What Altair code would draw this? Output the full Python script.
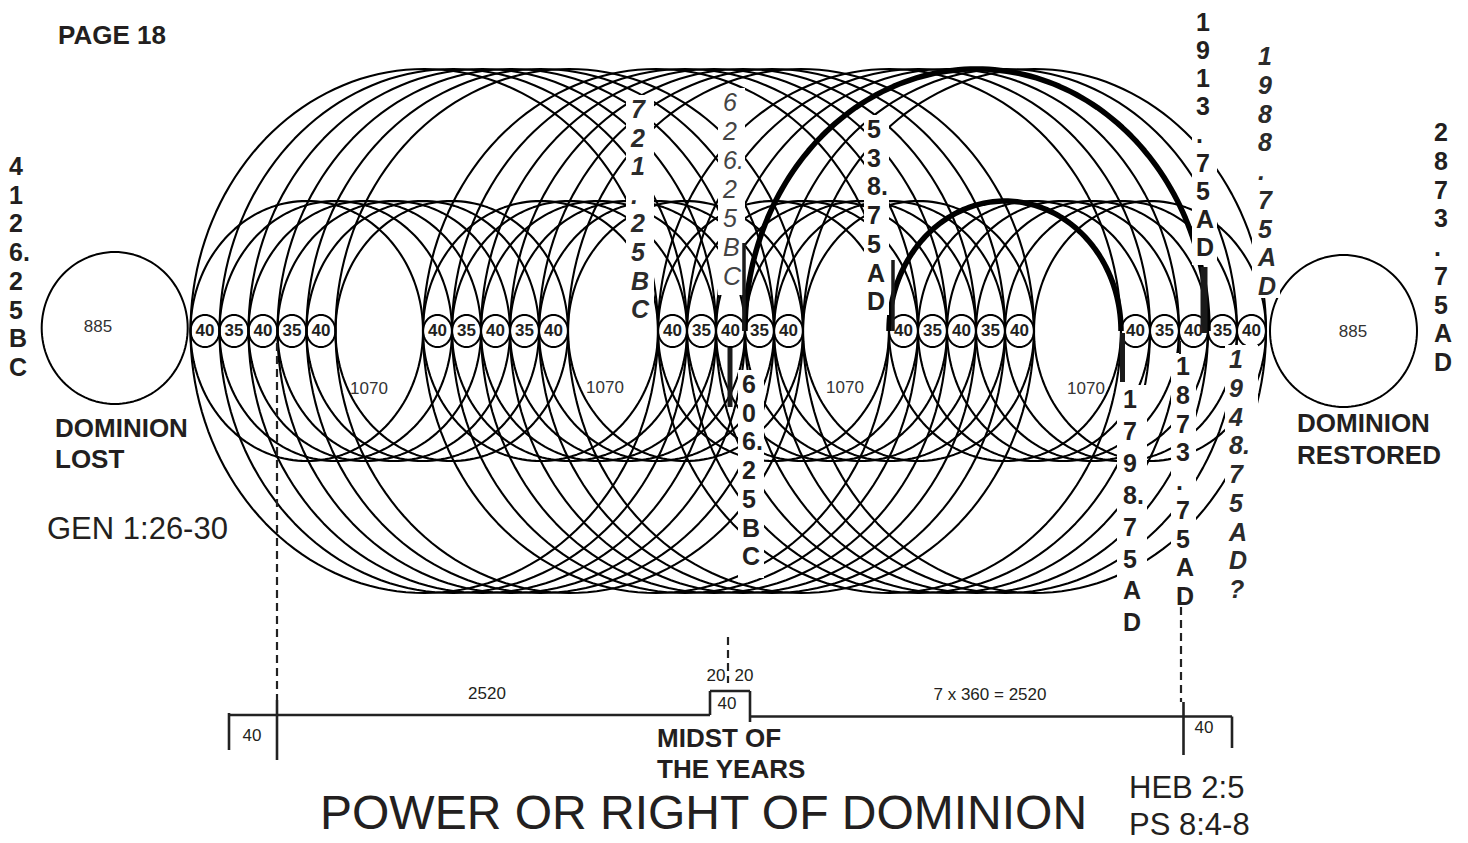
import numpy as np
import pandas as pd
import altair as alt

# ------------------------------------------------------------------ data
# All positions are in the reference picture's pixel space.
group_starts = [190.5, 423.0, 658.0, 889.0, 1121.0]  # left tangent point of each chain
chain_labels = ["40", "35", "40", "35", "40"]
link_width = 29.0
base_y = 331.0
link_rx, link_ry = 14.5, 16.0
inner_ry = 130.0   # loops spanning one gap (1070)
outer_ry = 262.0   # loops spanning two gaps

circle_cx = [114.7, 1343.5]
circle_cy = [328.0, 331.0]
circle_rx = [73.0, 73.5]
circle_ry = [76.0, 76.0]
circle_labels = ["885", "885"]
circle_label_x = [98, 1353]
circle_label_y = [327, 332]

gap_labels = ["1070", "1070", "1070", "1070"]
gap_label_x = [369, 605, 845, 1086]
gap_label_y = [389, 388, 388, 389]

# highlighted arcs: (chain, tangent index) -> (chain, tangent index)
thick_from = [(2, 3), (3, 0)]
thick_to = [(4, 3), (4, 0)]
thick_ry = [262.0, 130.0]

# vertical date columns
col_lines = [
    ["4", "1", "2", "6.", "2", "5", "B", "C"],
    ["7", "2", "1", ".", "2", "5", "B", "C"],
    ["6", "2", "6.", "2", "5", "B", "C"],
    ["5", "3", "8.", "7", "5", "A", "D"],
    ["1", "9", "1", "3", ".", "7", "5", "A", "D"],
    ["1", "9", "8", "8", ".", "7", "5", "A", "D"],
    ["2", "8", "7", "3", ".", "7", "5", "A", "D"],
    ["6", "0", "6.", "2", "5", "B", "C"],
    ["1", "7", "9", "8.", "7", "5", "A", "D"],
    ["1", "8", "7", "3", ".", "7", "5", "A", "D"],
    ["1", "9", "4", "8.", "7", "5", "A", "D", "?"],
]
col_x = [9, 631, 723, 867, 1196, 1258, 1434, 742, 1123, 1176, 1229]
col_y0 = [167, 110, 103, 130, 23, 57, 133, 385, 400, 367, 360]
col_dy = [28.7, 28.6, 29.0, 28.7, 28.1, 28.75, 28.75, 28.7, 31.9, 28.75, 28.75]
col_style = ["bold", "bolditalic", "italic", "bold", "bold", "bolditalic", "bold",
             "bold", "bold", "bold", "bolditalic"]

# white panels behind the date columns
mask_x1 = [626, 718, 864, 1192, 1252, 738, 1117, 1171, 1225]
mask_x2 = [654, 745, 889, 1217, 1280, 764, 1147, 1196, 1258]
mask_y1 = [95, 88, 115, 5, 40, 370, 385, 353, 345]
mask_y2 = [322, 295, 315, 265, 298, 578, 635, 607, 603]

# heavy marker bars
bar_x = [744, 730, 893, 1122.5, 1204, 1180]
bar_y1 = [243, 348, 260, 333, 267, 341]
bar_y2 = [331, 407, 331, 382, 333, 354]
bar_w = [3.5, 5.0, 3.5, 5.0, 7.0, 2.0]

# dashed guides
dash_x = [277, 728, 1181]
dash_y1 = [343, 637, 607]
dash_y2 = [700, 683, 702]

# time line (solid segments)
tl_x1 = [229, 710, 710, 750, 750, 229, 277, 1183.5, 1232]
tl_y1 = [715, 715, 691, 691, 716.5, 713, 700, 702, 716.5]
tl_x2 = [710, 710, 750, 750, 1232, 229, 277, 1183.5, 1232]
tl_y2 = [715, 691, 691, 722, 716.5, 750, 760, 755, 748]
tl_text = ["40", "2520", "20", "20", "40", "7 x 360 = 2520", "40"]
tl_tx = [252, 487, 716, 744, 727, 990, 1204]
tl_ty = [736, 694, 676, 676, 704, 695, 728]

bold_text = ["PAGE 18", "DOMINION", "LOST", "DOMINION", "RESTORED", "MIDST OF", "THE YEARS"]
bold_x = [58, 55, 55, 1297, 1297, 657, 657]
bold_y = [36, 429, 460, 424, 456, 739, 770]

ref_text = ["GEN 1:26-30", "HEB 2:5", "PS 8:4-8"]
ref_x = [47, 1129, 1129]
ref_y = [530, 789, 826]

title_text = ["POWER OR RIGHT OF DOMINION"]
title_x = [320]
title_y = [815]

# ------------------------------------------------------------------ geometry
tangents = [[g + i * link_width for i in range(6)] for g in group_starts]


def ellipse(kind, eid, cx, cy, rx, ry, t0=0.0, t1=2 * np.pi, n=161):
    t = np.linspace(t0, t1, n)
    return pd.DataFrame({
        "kind": kind, "id": eid, "o": np.arange(n),
        "x": np.round(cx + rx * np.cos(t), 2),
        "y": np.round(cy - ry * np.sin(t), 2),
    })


parts = []
eid = 0
for k in range(4):          # one-gap loops
    for i in range(6):
        a, b = tangents[k][i], tangents[k + 1][i]
        parts.append(ellipse("thin", eid, (a + b) / 2, base_y, (b - a) / 2, inner_ry))
        eid += 1
for k in range(3):          # two-gap loops
    for i in range(6):
        a, b = tangents[k][i], tangents[k + 2][i]
        parts.append(ellipse("thin", eid, (a + b) / 2, base_y, (b - a) / 2, outer_ry))
        eid += 1
for (k1, i1), (k2, i2), ry in zip(thick_from, thick_to, thick_ry):
    a, b = tangents[k1][i1], tangents[k2][i2]
    parts.append(ellipse("thick", eid, (a + b) / 2, base_y, (b - a) / 2, ry, 0, np.pi, 121))
    eid += 1
link_rows = []
for k in range(5):
    for i in range(5):
        cx = tangents[k][i] + link_width / 2
        parts.append(ellipse("link", eid, cx, base_y, link_rx, link_ry, n=61))
        link_rows.append({"x": cx, "y": base_y, "t": chain_labels[i]})
        eid += 1
for cx, cy, rx, ry in zip(circle_cx, circle_cy, circle_rx, circle_ry):
    parts.append(ellipse("big", eid, cx, cy, rx, ry, n=121))
    eid += 1
curves = pd.concat(parts, ignore_index=True)
links = pd.DataFrame(link_rows)

col_rows = []
for lines, x, y0, dy, st in zip(col_lines, col_x, col_y0, col_dy, col_style):
    for j, ch in enumerate(lines):
        col_rows.append({"x": x, "y": y0 + j * dy, "t": ch, "s": st})
cols = pd.DataFrame(col_rows)

# ------------------------------------------------------------------ chart
XS = alt.Scale(domain=[8, 1460], nice=False, zero=False)
YS = alt.Scale(domain=[8, 843], nice=False, zero=False, reverse=True)
FONT = "Liberation Sans"
INK = "#231f20"


def X(f="x"):
    return alt.X(f"{f}:Q", scale=XS, axis=None)


def Y(f="y"):
    return alt.Y(f"{f}:Q", scale=YS, axis=None)


def curve_layer(kind, width):
    return alt.Chart(curves[curves.kind == kind]).mark_line(
        color="black", strokeWidth=width, strokeJoin="round"
    ).encode(x=X(), y=Y(), detail="id:N", order="o:Q")


layers = [
    curve_layer("thin", 2.1),
    curve_layer("thick", 5.5),
    curve_layer("link", 2.0),
    curve_layer("big", 2.0),
]

masks = pd.DataFrame({"x": mask_x1, "x2": mask_x2, "y": mask_y1, "y2": mask_y2})
layers.append(alt.Chart(masks).mark_rect(color="white").encode(
    x=X(), x2="x2:Q", y=Y(), y2="y2:Q"))

bars = pd.DataFrame({"x": bar_x, "y": bar_y1, "y2": bar_y2, "w": bar_w})
layers.append(alt.Chart(bars).mark_rule(color="#1a1a1a").encode(
    x=X(), y=Y(), y2="y2:Q",
    strokeWidth=alt.StrokeWidth("w:Q", scale=None, legend=None)))

dashes = pd.DataFrame({"x": dash_x, "y": dash_y1, "y2": dash_y2})
layers.append(alt.Chart(dashes).mark_rule(
    color="#222", strokeWidth=2.2, strokeDash=[8, 5]).encode(x=X(), y=Y(), y2="y2:Q"))

tl = pd.DataFrame({"x": tl_x1, "y": tl_y1, "x2": tl_x2, "y2": tl_y2})
layers.append(alt.Chart(tl).mark_rule(color="#222", strokeWidth=2.6).encode(
    x=X(), y=Y(), x2="x2:Q", y2="y2:Q"))

layers.append(alt.Chart(links).mark_text(
    font=FONT, fontSize=17, fontWeight="bold", color=INK, baseline="middle", align="center"
).encode(x=X(), y=Y(), text="t:N"))

big_lab = pd.DataFrame({"x": circle_label_x + gap_label_x,
                        "y": circle_label_y + gap_label_y,
                        "t": circle_labels + gap_labels})
layers.append(alt.Chart(big_lab).mark_text(
    font=FONT, fontSize=17, color="#333", baseline="middle", align="center"
).encode(x=X(), y=Y(), text="t:N"))

for st, weight, style, color in [("bold", "bold", "normal", INK),
                                 ("bolditalic", "bold", "italic", "#2b2b2b"),
                                 ("italic", "normal", "italic", "#444444")]:
    layers.append(alt.Chart(cols[cols.s == st]).mark_text(
        font=FONT, fontSize=25, fontWeight=weight, fontStyle=style, color=color,
        baseline="middle", align="left"
    ).encode(x=X(), y=Y(), text="t:N"))

tll = pd.DataFrame({"x": tl_tx, "y": tl_ty, "t": tl_text})
layers.append(alt.Chart(tll).mark_text(
    font=FONT, fontSize=17, color=INK, baseline="middle", align="center"
).encode(x=X(), y=Y(), text="t:N"))

bt = pd.DataFrame({"x": bold_x, "y": bold_y, "t": bold_text})
layers.append(alt.Chart(bt).mark_text(
    font=FONT, fontSize=26, fontWeight="bold", color=INK, baseline="middle", align="left"
).encode(x=X(), y=Y(), text="t:N"))

rt = pd.DataFrame({"x": ref_x, "y": ref_y, "t": ref_text})
layers.append(alt.Chart(rt).mark_text(
    font=FONT, fontSize=31, color=INK, baseline="middle", align="left"
).encode(x=X(), y=Y(), text="t:N"))

tt = pd.DataFrame({"x": title_x, "y": title_y, "t": title_text})
layers.append(alt.Chart(tt).mark_text(
    font=FONT, fontSize=48, color=INK, baseline="middle", align="left"
).encode(x=X(), y=Y(), text="t:N"))

chart = alt.layer(*layers).properties(
    width=1452, height=835, padding=0, autosize="none", background="white"
).configure_view(strokeWidth=0)

chart.save("out.html", embed_options={"renderer": "svg", "actions": False})
